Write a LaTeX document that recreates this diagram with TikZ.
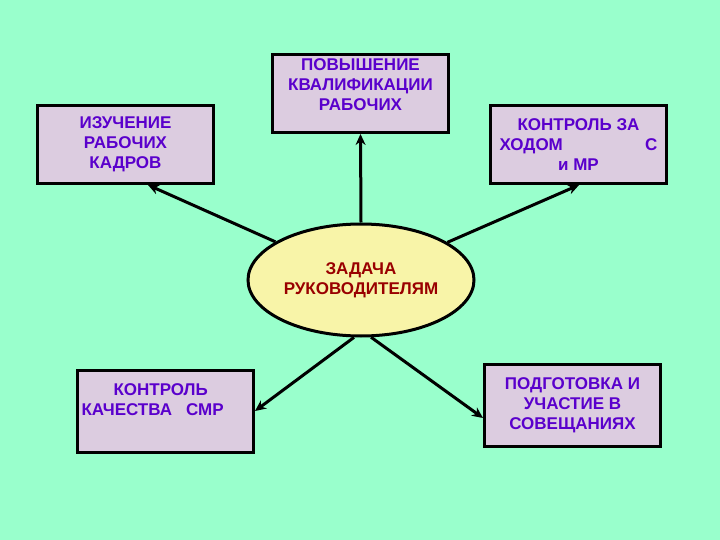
\documentclass[tikz,border=0pt]{standalone}
\usepackage{fontspec}
\setmainfont{Liberation Sans}
\usetikzlibrary{arrows.meta,calc,shapes.geometric}
\definecolor{bg}{HTML}{99FFCC}
\definecolor{boxf}{HTML}{DCCCE0}
\definecolor{txt}{HTML}{5A00CC}
\definecolor{ell}{HTML}{F8F4A8}
\definecolor{dred}{HTML}{990000}
\begin{document}
\begin{tikzpicture}[x=1pt,y=-1pt,
  bx/.style={draw=black,line width=3pt,fill=boxf,minimum width=176pt,minimum height=78pt,
    inner sep=0pt,anchor=north west,font=\bfseries\fontsize{17}{20}\selectfont,text=txt,align=center},
  arr/.style={line width=3pt,-{Stealth[length=11pt,width=10pt]}}]
\fill[bg] (0,0) rectangle (720,540);
\useasboundingbox (0,0) rectangle (720,540);
\node[bx] (b1) at (36,104) {ИЗУЧЕНИЕ\\РАБОЧИХ\\КАДРОВ};
\node[bx] (b2) at (271,53) {};
\node[font=\bfseries\fontsize{17}{20}\selectfont,text=txt,align=center,anchor=north] (b2t) at ($(b2.north)+(0,2)$) {ПОВЫШЕНИЕ\\КВАЛИФИКАЦИИ\\РАБОЧИХ};
\node[bx] (b3) at (489,104) {\parbox{158pt}{\centering КОНТРОЛЬ ЗА\\ХОДОМ\hfill С\\и МР}};
\node[bx,minimum height=82pt] (b4) at (76,369) {\parbox{168pt}{\raggedright\hspace*{32pt}КОНТРОЛЬ\\КАЧЕСТВА\hspace{14pt}СМР}\\[16pt]};
\node[bx,minimum height=82pt] (b5) at (483,363) {ПОДГОТОВКА И\\УЧАСТИЕ В\\СОВЕЩАНИЯХ};
\node[draw=black,line width=3pt,fill=ell,ellipse,minimum width=226pt,minimum height=112pt,inner sep=0pt,
  font=\bfseries\fontsize{17}{20}\selectfont,text=dred,align=center] (e) at (361,280) {ЗАДАЧА\\РУКОВОДИТЕЛЯМ};
\coordinate (t1) at ($(b1.south west)+(112,0)$);
\coordinate (t3) at ($(b3.south west)+(90,0)$);
\coordinate (t4) at ($(b4.north east)+(0,42)$);
\coordinate (t5) at ($(b5.north west)+(0,55)$);
\draw[arr] (e) -- (t1);
\draw[arr] (e.north) -- (b2.south);
\draw[arr] (e) -- (t3);
\draw[arr] (e.-97) -- (t4);
\draw[arr] (e.-80) -- (t5);
\end{tikzpicture}
\end{document}
